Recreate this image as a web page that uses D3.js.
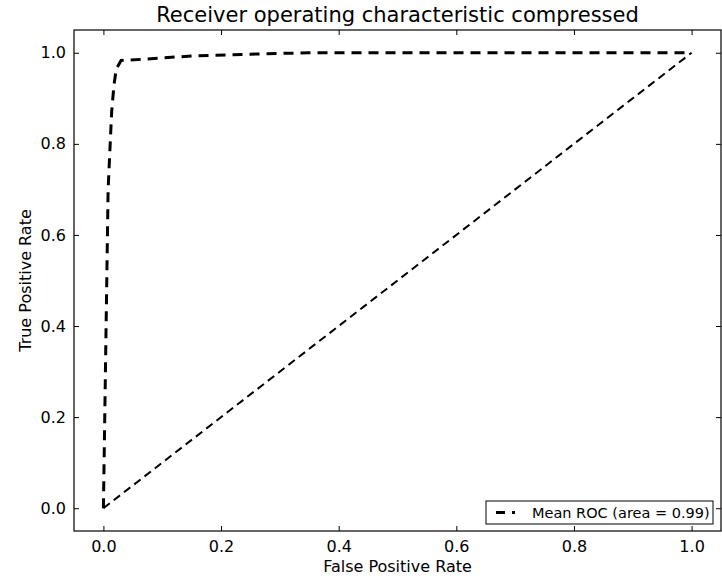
<!DOCTYPE html>
<html>
<head>
<meta charset="utf-8">
<script src="https://cdn.jsdelivr.net/npm/d3@7"></script>
<style>
  body { margin: 0; background: #fff; }
  text { font-family: "DejaVu Sans", sans-serif; fill: #000; }
</style>
</head>
<body>
<svg id="grafico"></svg>
<script>
// Datos de la curva ROC media
const fpr = [0.0, 0.008, 0.014, 0.018, 0.022, 0.03, 0.07, 0.15, 0.25, 0.35, 1.0];
const tpr = [0.0, 0.70, 0.87, 0.93, 0.965, 0.983, 0.986, 0.993, 0.997, 1.0, 1.0];
// Diagonal de referencia
const azarX = [0, 1];
const azarY = [0, 1];
const ticks = [0.0, 0.2, 0.4, 0.6, 0.8, 1.0];
const etiquetaLeyenda = "Mean ROC (area = 0.99)";

var anchura = 722,
    altura = 578,
    margen = { top: 30, right: 1, bottom: 47, left: 74 };

var svg = d3.select("#grafico")
    .attr("width", anchura)
    .attr("height", altura);

var x = d3.scaleLinear().domain([-0.05, 1.05]).range([margen.left, anchura - margen.right]);
var y = d3.scaleLinear().domain([-0.05, 1.05]).range([altura - margen.bottom, margen.top]);

var linea = d3.line()
    .x(function (d) { return x(d[0]); })
    .y(function (d) { return y(d[1]); });

//Diagonal
svg.append("path")
    .datum(d3.zip(azarX, azarY))
    .attr("d", linea)
    .attr("fill", "none")
    .attr("stroke", "#000")
    .attr("stroke-width", 2)
    .attr("stroke-dasharray", "8,5");

//Curva ROC
svg.append("path")
    .datum(d3.zip(fpr, tpr))
    .attr("d", linea)
    .attr("fill", "none")
    .attr("stroke", "#000")
    .attr("stroke-width", 3)
    .attr("stroke-dasharray", "10,7");

//Ejes con ticks hacia dentro en los cuatro lados
var tam = 5;
svg.append("g")
    .attr("transform", "translate(0," + y.range()[0] + ")")
    .call(d3.axisBottom(x).tickValues(ticks).tickSize(-tam).tickPadding(10).tickFormat(d3.format(".1f")));
svg.append("g")
    .attr("transform", "translate(0," + y.range()[1] + ")")
    .call(d3.axisTop(x).tickValues(ticks).tickSize(-tam).tickFormat(""));
svg.append("g")
    .attr("transform", "translate(" + x.range()[0] + ",0)")
    .call(d3.axisLeft(y).tickValues(ticks).tickSize(-tam).tickPadding(8).tickFormat(d3.format(".1f")));
svg.append("g")
    .attr("transform", "translate(" + x.range()[1] + ",0)")
    .call(d3.axisRight(y).tickValues(ticks).tickSize(-tam).tickFormat(""));

svg.selectAll(".domain").remove();
svg.selectAll(".tick line").attr("stroke", "#000").attr("stroke-width", 1);
svg.selectAll(".tick text").style("font-size", "16px").attr("fill", "#222");

//Marco
svg.append("rect")
    .attr("x", x.range()[0])
    .attr("y", y.range()[1])
    .attr("width", x.range()[1] - x.range()[0])
    .attr("height", y.range()[0] - y.range()[1])
    .attr("fill", "none")
    .attr("stroke", "#000")
    .attr("stroke-width", 1.2);

//Titulos
svg.append("text")
    .attr("x", (x.range()[0] + x.range()[1]) / 2)
    .attr("y", 22)
    .attr("text-anchor", "middle")
    .style("font-size", "21px")
    .text("Receiver operating characteristic compressed");
svg.append("text")
    .attr("x", (x.range()[0] + x.range()[1]) / 2)
    .attr("y", 572)
    .attr("text-anchor", "middle")
    .style("font-size", "16px")
    .text("False Positive Rate");
svg.append("text")
    .attr("transform", "translate(31," + (y.range()[0] + y.range()[1]) / 2 + ") rotate(-90)")
    .attr("text-anchor", "middle")
    .style("font-size", "16px")
    .text("True Positive Rate");

//Leyenda
var ley = svg.append("g").attr("transform", "translate(486,501)");
ley.append("rect")
    .attr("width", 227)
    .attr("height", 23)
    .attr("fill", "#fff")
    .attr("stroke", "#000")
    .attr("stroke-width", 1);
ley.append("line")
    .attr("x1", 10).attr("x2", 29)
    .attr("y1", 11.5).attr("y2", 11.5)
    .attr("stroke", "#000")
    .attr("stroke-width", 3)
    .attr("stroke-dasharray", "9,7");
ley.append("text")
    .attr("x", 46)
    .attr("y", 16.5)
    .style("font-size", "14.5px")
    .text(etiquetaLeyenda);
</script>
</body>
</html>
